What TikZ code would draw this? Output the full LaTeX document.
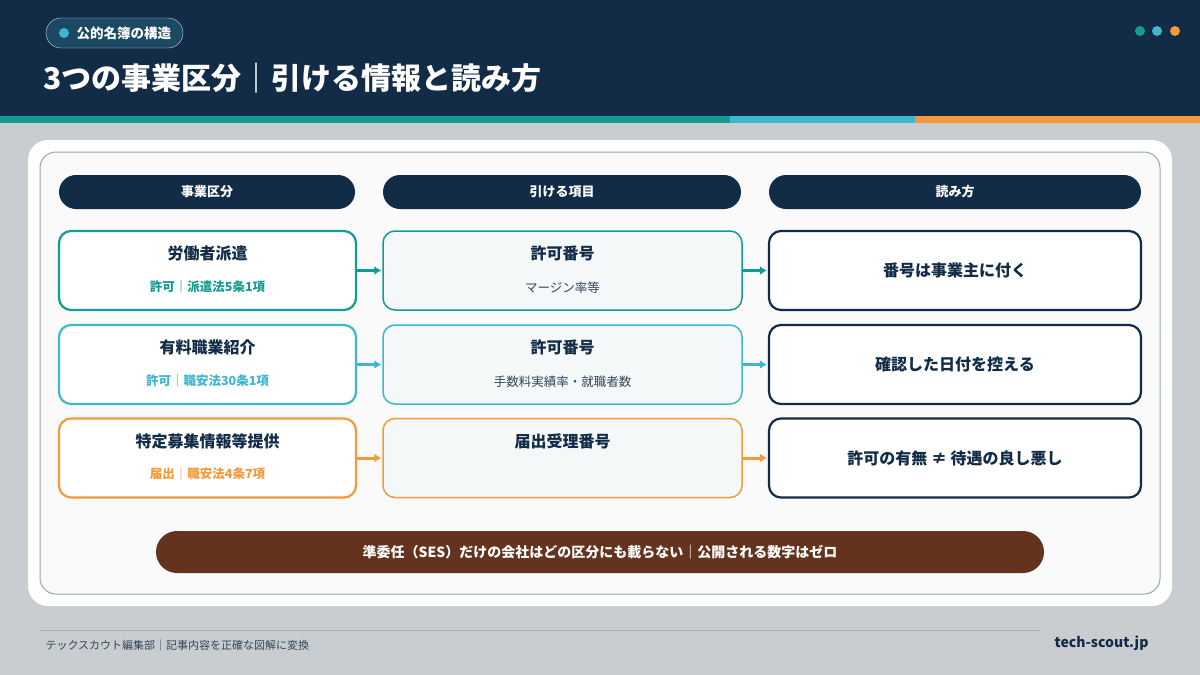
\documentclass[tikz,border=0pt]{standalone}
\usepackage{fontspec}
\usetikzlibrary{arrows.meta}
\newfontfamily\cjk{Noto Sans CJK JP}
\newcommand\cjkb{\cjk\bfseries}
\begin{document}
\definecolor{navy}{HTML}{122C47}
\definecolor{teal}{HTML}{159C92}
\definecolor{cyan}{HTML}{3DB8CF}
\definecolor{orng}{HTML}{F39A3A}
\definecolor{brown}{HTML}{63331E}
\definecolor{bg}{HTML}{C9CDD0}
\definecolor{midf}{HTML}{F4F8F9}
\begin{tikzpicture}[x=1pt,y=-1pt,font=\cjk,
 box/.style={draw=#1,line width=2.2pt,rounded corners=12pt,fill=white},
 mid/.style={draw=#1,line width=1.5pt,rounded corners=12pt,fill=midf},
 hd/.style={fill=navy,rounded corners=17pt,text=white,font=\cjkb\fontsize{13}{15}\selectfont},
 ttl/.style={font=\cjkb\fontsize{16}{18}\selectfont,text=navy},
 sub/.style={font=\cjkb\fontsize{12.5}{14}\selectfont,text=#1},
 arr/.style={draw=#1,line width=3pt,-{Latex[length=7pt,width=9pt]},shorten >=1pt}]
\useasboundingbox (0,0) rectangle (1200,675);
\fill[bg] (0,0) rectangle (1200,675);
\fill[navy] (0,0) rectangle (1200,116);
\fill[teal] (0,116) rectangle (730,123);
\fill[cyan] (730,116) rectangle (915,123);
\fill[orng] (915,116) rectangle (1200,123);
\node[draw=white!80!navy,fill=navy!80!cyan,rounded corners=15pt,minimum width=137pt,minimum height=30pt] (tag) at (114.5,33) {};
\fill[cyan] (64,33) circle (5pt);
\node[anchor=west,text=white,font=\cjkb\fontsize{13.5}{15}\selectfont] (tagt) at (73,33) {公的名簿の構造};
\node[anchor=west,text=white,font=\cjkb\fontsize{30}{34}\selectfont] (title) at (40,78) {3つの事業区分｜引ける情報と読み方};
\fill[teal] (1140,31) circle (5pt); \fill[cyan] (1157,31) circle (5pt); \fill[orng] (1175,31) circle (5pt);
\fill[white,rounded corners=20pt] (28,140) rectangle (1172,606);
\draw[white!60!teal!50!gray,fill=white!96!gray,rounded corners=16pt,line width=1pt] (40,152) rectangle (1160,594);
\node[hd,minimum width=296pt,minimum height=34pt] (h1) at (207,192) {事業区分};
\node[hd,minimum width=358pt,minimum height=34pt] (h2) at (562,192) {引ける項目};
\node[hd,minimum width=372pt,minimum height=34pt] (h3) at (955,192) {読み方};
\foreach \c/\yc/\n/\sb/\m/\ms/\r [count=\i] in {
 teal/270.5/労働者派遣/許可｜派遣法5条1項/許可番号/マージン率等/番号は事業主に付く,
 cyan/364.5/有料職業紹介/許可｜職安法30条1項/許可番号/手数料実績率・就職者数/確認した日付を控える,
 orng/458/特定募集情報等提供/届出｜職安法4条7項/届出受理番号//許可の有無 ≠ 待遇の良し悪し}{
 \node[box=\c,minimum width=297pt,minimum height=79pt] (a\i) at (207.5,\yc) {};
 \node[ttl] (at\i) at (207.5,\yc-17) {\n};
 \node[sub=\c] (as\i) at (207.5,\yc+16) {\sb};
 \node[mid=\c,minimum width=359pt,minimum height=79pt] (b\i) at (562.5,\yc) {};
 \node[ttl] (bt\i) at (562.5,\yc-17) {\m};
 \node[font=\cjk\fontsize{12.5}{14}\selectfont,text=navy!70!gray] (bs\i) at (562.5,\yc+17) {\ms};
 \node[box=navy,minimum width=372pt,minimum height=79pt] (c\i) at (955,\yc) {};
 \node[ttl] (ct\i) at (955,\yc) {\r};
 \draw[arr=\c] (a\i.east) -- (b\i.west);
 \draw[arr=\c] (b\i.east) -- (c\i.west);
}
\node[fill=brown,rounded corners=21pt,minimum width=888pt,minimum height=42pt,text=white,font=\cjkb\fontsize{14}{16}\selectfont] (note) at (600,552) {準委任（SES）だけの会社はどの区分にも載らない｜公開される数字はゼロ};
\draw[gray!60] (40,630) -- (1040,630);
\node[anchor=west,font=\cjk\fontsize{11}{13}\selectfont,text=navy!70!gray] (ft) at (42,645) {テックスカウト編集部｜記事内容を正確な図解に変換};
\node[anchor=east,font=\cjkb\fontsize{14}{16}\selectfont,text=navy] (url) at (1152,643) {tech-scout.jp};
\end{tikzpicture}
\end{document}
